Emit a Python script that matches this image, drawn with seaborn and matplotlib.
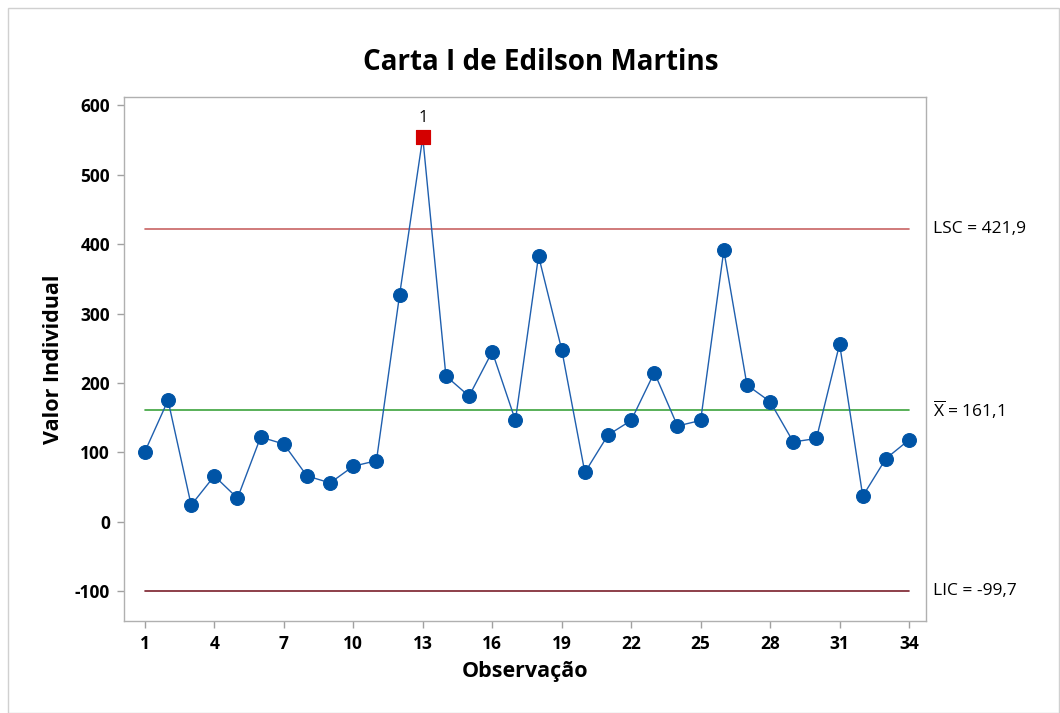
import matplotlib
matplotlib.use("Agg")
import matplotlib.pyplot as plt
import seaborn as sns
import pandas as pd
from matplotlib.patches import Rectangle
from matplotlib.transforms import blended_transform_factory

observacao = list(range(1, 35))
valores = [101, 175, 24, 66, 34, 122, 112, 66, 56, 80, 88, 327, 554, 210, 181, 245,
           146, 383, 248, 71, 125, 146, 215, 138, 146, 391, 197, 173, 115, 120, 256, 37, 91, 118]
lsc = 421.9
media = 161.1
lic = -99.7
fora_controle = [13]
xticks = [1, 4, 7, 10, 13, 16, 19, 22, 25, 28, 31, 34]
yticks = [-100, 0, 100, 200, 300, 400, 500, 600]

sns.set_style("ticks")
plt.rcParams['font.family'] = ['Open Sans', 'DejaVu Sans']
plt.rcParams['axes.unicode_minus'] = False
plt.rcParams['text.color'] = 'black'
plt.rcParams['axes.labelcolor'] = 'black'
plt.rcParams['xtick.color'] = '#A0A0A0'
plt.rcParams['ytick.color'] = '#A0A0A0'
plt.rcParams['xtick.labelcolor'] = 'black'
plt.rcParams['ytick.labelcolor'] = 'black'
plt.rcParams['mathtext.fontset'] = 'custom'
plt.rcParams['mathtext.rm'] = 'Open Sans'

df = pd.DataFrame({"Observação": observacao, "Valor": valores})
df_out = df[df["Observação"].isin(fora_controle)]

fig = plt.figure(figsize=(10.6, 7.13), dpi=100)
ax = fig.add_axes([0.117, 0.129, 0.757, 0.735])

ax.plot([1, 34], [lsc, lsc], color="#C86464", lw=1.2, zorder=1)
ax.plot([1, 34], [media, media], color="#3CA33C", lw=1.2, zorder=1)
ax.plot([1, 34], [lic, lic], color="#7A1F2B", lw=1.2, zorder=1)

sns.lineplot(data=df, x="Observação", y="Valor", ax=ax, color="#1F5FAE", lw=1,
             marker="o", markersize=10, markerfacecolor="#0054A6",
             markeredgecolor="#0054A6", zorder=2)
sns.scatterplot(data=df_out, x="Observação", y="Valor", ax=ax, marker="s", s=110,
                color="#D40000", edgecolor="#D40000", zorder=3)
for _, r in df_out.iterrows():
    ax.annotate("1", (r["Observação"], r["Valor"]), xytext=(0, 8),
                textcoords="offset points", ha="center", va="bottom", fontsize=12,
                color="black")

ax.set_xlim(0.1, 34.75)
ax.set_ylim(-143, 612)
ax.set_xticks(xticks)
ax.set_yticks(yticks)
ax.tick_params(axis="both", direction="out", length=5, width=1, labelsize=12.5, pad=5)
for lbl in ax.get_xticklabels() + ax.get_yticklabels():
    lbl.set_fontweight("bold")
for s in ax.spines.values():
    s.set_visible(True)
    s.set_color("#B0B0B0")
    s.set_linewidth(1)

ax.set_xlabel("Observação", fontsize=15.5, fontweight="bold", labelpad=6)
ax.set_ylabel("Valor Individual", fontsize=15.5, fontweight="bold", labelpad=8)
fig.suptitle("Carta I de Edilson Martins", fontsize=20, fontweight="bold", y=0.932, x=0.51)

tr = blended_transform_factory(ax.transAxes, ax.transData)
ax.text(1.008, lsc, "LSC = 421,9", transform=tr, va="center", ha="left", fontsize=12.5)
ax.text(1.008, media, r"$\overline{\mathrm{X}}$ = 161,1", transform=tr, va="center",
        ha="left", fontsize=12.5)
ax.text(1.008, lic, "LIC = -99,7", transform=tr, va="center", ha="left", fontsize=12.5)

fig.patches.append(Rectangle((8 / 1060, 0.0), 1 - 8 / 1060 - 0.001, 1 - 8 / 713,
                             transform=fig.transFigure, fill=False,
                             edgecolor="#D0D0D0", lw=1))

fig.savefig("out.png", dpi=100)
